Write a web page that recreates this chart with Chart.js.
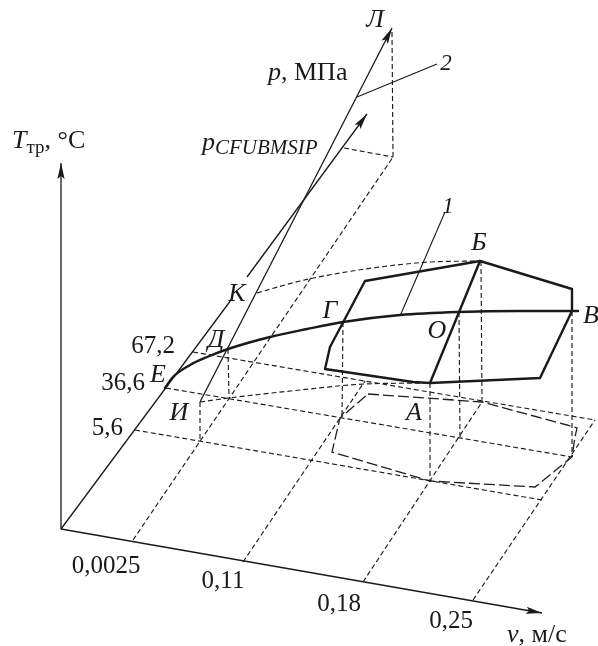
<!DOCTYPE html>
<html>
<head>
<meta charset="utf-8">
<script src="https://cdn.jsdelivr.net/npm/chart.js@4/dist/chart.umd.min.js"></script>
<style>
  html, body { margin: 0; padding: 0; background: #fff; }
  #wrap { width: 598px; height: 646px; }
</style>
</head>
<body>
<div id="wrap"><canvas id="c" width="598" height="646"></canvas></div>
<script>
// Drawing plane of the oblique diagram: x to the right, y downward.
const PLANE_W = 598, PLANE_H = 646;

// ---- axes ----
const tAxis     = [[61, 529], [61, 163]];
const vAxis     = [[61, 529], [542, 613]];
const pAxisLow  = [[61, 529], [231, 300]];
const pAxisHigh = [[247, 277], [367, 114]];
const pLine2    = [[200, 402], [392, 28]];          // И – Д – К – Л

// ---- tick labels and where they sit ----
const vTickText = ['0,0025', '0,11', '0,18', '0,25'];
const vTickAt   = [[133, 540], [243, 562], [363, 582], [473, 600]];
const vLineEnd  = [[393, 157], [365, 381], [482, 402], [595, 420]];

const pTickText = ['5,6', '36,6', '67,2'];
const pTickAt   = [[135, 430], [166, 388], [193, 352]];
const pLineEnd  = [[542, 500], [572, 457], [595, 420]];

// ---- construction lines ----
const limitFoot   = [[344, 148], [393, 157]];
const limitDrop   = [[392, 32], [393, 157]];
const drops = [
  [[228, 349], [229, 398]],   // Д
  [[200, 402], [200, 441]],   // И
  [[343, 322], [342, 418]],   // Г
  [[459, 312], [460, 438]],   // О
  [[481, 261], [482, 402]],   // Б
  [[572, 311], [572, 457]],   // В
  [[430, 383], [430, 481]]    // А
];
const upperArc = [[257, 293], [300, 281], [340, 273], [380, 267], [430, 262], [480, 261]];
const lowerArc = [[200, 402], [229, 398], [300, 390], [365, 384], [430, 383]];

// ---- working region (solid) and its trace on the base plane ----
const region = [[365, 281], [480, 261], [572, 289], [572, 311], [540, 378], [430, 383],
                [413, 382], [325, 369], [330, 347], [365, 281]];
const regionDiag = [[480, 261], [430, 383]];
const regionTrace = [[368, 394], [482, 402], [567, 425], [577, 428], [575, 437], [572, 457],
                     [535, 487], [430, 481], [332, 452], [340, 418], [368, 394]];

// ---- curve 1 ----
const curve1 = [[165, 388], [173, 377], [190, 365], [207, 357], [228, 349], [270, 337],
                [307, 329], [343, 322], [400, 315], [458, 312], [520, 311], [578, 311]];

// ---- leaders ----
const leader1 = [[400, 316], [445, 212]];
const leader2 = [[357, 97], [437, 64]];

const INK = '#1a1a1a';
const DASH = '#1e1e1e';

function path(pts, style) {
  return Object.assign({
    data: pts.map(([x, y]) => ({ x, y })),
    showLine: true,
    pointRadius: 0,
    pointHoverRadius: 0,
    borderColor: INK,
    borderWidth: 1.3,
    fill: false,
    tension: 0
  }, style || {});
}
const thin = { borderWidth: 1.3 };
const thick = { borderWidth: 2.4, borderCapStyle: 'round', borderJoinStyle: 'round' };
const shortDash = { borderWidth: 1.15, borderColor: DASH, borderDash: [5, 3] };
const longDash = { borderWidth: 1.3, borderColor: DASH, borderDash: [11, 4] };

const datasets = [];
// base grid
vTickAt.forEach((p, i) => datasets.push(path([p, vLineEnd[i]], shortDash)));
pTickAt.forEach((p, i) => datasets.push(path([p, pLineEnd[i]], shortDash)));
datasets.push(path(limitFoot, shortDash));
datasets.push(path(limitDrop, shortDash));
drops.forEach(d => datasets.push(path(d, shortDash)));
datasets.push(path(upperArc, Object.assign({ cubicInterpolationMode: 'monotone', tension: 0.4 }, shortDash)));
datasets.push(path(lowerArc, Object.assign({ cubicInterpolationMode: 'monotone', tension: 0.4 }, shortDash)));
datasets.push(path(regionTrace, longDash));
// axes
datasets.push(path(tAxis, Object.assign({ arrowEnd: true }, thin)));
datasets.push(path(vAxis, Object.assign({ arrowEnd: true }, thin)));
datasets.push(path(pAxisLow, thin));
datasets.push(path(pAxisHigh, Object.assign({ arrowEnd: true }, thin)));
datasets.push(path(pLine2, Object.assign({ arrowEnd: true }, thin)));
datasets.push(path(leader1, { borderWidth: 1.1 }));
datasets.push(path(leader2, { borderWidth: 1.1 }));
// region and curve
datasets.push(path(region, thick));
datasets.push(path(regionDiag, thick));
datasets.push(path(curve1, Object.assign({ cubicInterpolationMode: 'monotone', tension: 0.4 }, thick)));

// ---- text ----
const FONT = '"Liberation Serif", "Times New Roman", "DejaVu Serif", serif';
const labels = [
  { at: [12, 148], align: 'left', runs: [{ t: 'T', it: true }, { t: 'тр', size: 19, dy: 5 }, { t: ', °C' }] },
  { at: [268, 80], align: 'left', runs: [{ t: 'p', it: true }, { t: ', МПа' }] },
  { at: [202, 150], align: 'left', runs: [{ t: 'p', it: true }, { t: 'CFUBMSIP', it: true, size: 21, dy: 4 }] },
  { at: [446, 70], align: 'center', runs: [{ t: '2', it: true, size: 23 }] },
  { at: [448, 213], align: 'center', runs: [{ t: '1', it: true, size: 23 }] },
  { at: [375, 27], align: 'center', runs: [{ t: 'Л', it: true }] },
  { at: [237, 301], align: 'center', runs: [{ t: 'К', it: true }] },
  { at: [216, 347], align: 'center', runs: [{ t: 'Д', it: true }] },
  { at: [158, 382], align: 'center', runs: [{ t: 'Е', it: true }] },
  { at: [179, 420], align: 'center', runs: [{ t: 'И', it: true }] },
  { at: [330, 318], align: 'center', runs: [{ t: 'Г', it: true }] },
  { at: [437, 338], align: 'center', runs: [{ t: 'О', it: true }] },
  { at: [479, 250], align: 'center', runs: [{ t: 'Б', it: true }] },
  { at: [583, 323], align: 'left', runs: [{ t: 'В', it: true }] },
  { at: [414, 420], align: 'center', runs: [{ t: 'А', it: true }] },
  { at: [507, 642], align: 'left', runs: [{ t: 'v', it: true }, { t: ', м/с' }] }
];
const vTickLabelShift = [[-27, 33], [-20, 26], [-24, 29], [-22, 28]];
const pTickLabelShift = [[-12, 5], [-21, 2], [-18, 1]];

const arrowPlugin = {
  id: 'arrowHeads',
  afterDatasetsDraw(chart) {
    const ctx = chart.ctx;
    chart.data.datasets.forEach((ds, i) => {
      if (!ds.arrowEnd) return;
      const pts = chart.getDatasetMeta(i).data;
      const a = pts[pts.length - 2], b = pts[pts.length - 1];
      const ang = Math.atan2(b.y - a.y, b.x - a.x);
      const len = 16, half = 3.6;
      ctx.save();
      ctx.translate(b.x, b.y);
      ctx.rotate(ang);
      ctx.beginPath();
      ctx.moveTo(0, 0);
      ctx.lineTo(-len, -half);
      ctx.lineTo(-len + 3, 0);
      ctx.lineTo(-len, half);
      ctx.closePath();
      ctx.fillStyle = INK;
      ctx.fill();
      ctx.restore();
    });
  }
};

function fontOf(r, base) {
  return (r.it ? 'italic ' : '') + (r.size || base) + 'px ' + FONT;
}
function drawRuns(ctx, x, y, runs, align, base) {
  const widths = runs.map(r => { ctx.font = fontOf(r, base); return ctx.measureText(r.t).width; });
  const total = widths.reduce((s, w) => s + w, 0);
  let cx = align === 'center' ? x - total / 2 : align === 'right' ? x - total : x;
  runs.forEach((r, i) => {
    ctx.font = fontOf(r, base);
    ctx.fillText(r.t, cx, y + (r.dy || 0));
    cx += widths[i];
  });
}

const textPlugin = {
  id: 'diagramText',
  afterDraw(chart) {
    const ctx = chart.ctx;
    const sx = chart.scales.x, sy = chart.scales.y;
    const px = ([x, y]) => [sx.getPixelForValue(x), sy.getPixelForValue(y)];
    ctx.save();
    ctx.fillStyle = INK;
    ctx.textBaseline = 'alphabetic';
    labels.forEach(l => {
      const [x, y] = px(l.at);
      drawRuns(ctx, x, y, l.runs, l.align, 26);
    });
    vTickText.forEach((t, i) => {
      const [x, y] = px(vTickAt[i]);
      drawRuns(ctx, x + vTickLabelShift[i][0], y + vTickLabelShift[i][1], [{ t }], 'center', 25);
    });
    pTickText.forEach((t, i) => {
      const [x, y] = px(pTickAt[i]);
      drawRuns(ctx, x + pTickLabelShift[i][0], y + pTickLabelShift[i][1], [{ t }], 'right', 25);
    });
    ctx.restore();
  }
};

new Chart(document.getElementById('c'), {
  type: 'scatter',
  data: { datasets },
  options: {
    responsive: false,
    animation: false,
    events: [],
    layout: { padding: 0 },
    plugins: { legend: { display: false }, tooltip: { enabled: false } },
    scales: {
      x: { type: 'linear', min: 0, max: PLANE_W, display: false },
      y: { type: 'linear', min: 0, max: PLANE_H, reverse: true, display: false }
    }
  },
  plugins: [arrowPlugin, textPlugin]
});
</script>
</body>
</html>
